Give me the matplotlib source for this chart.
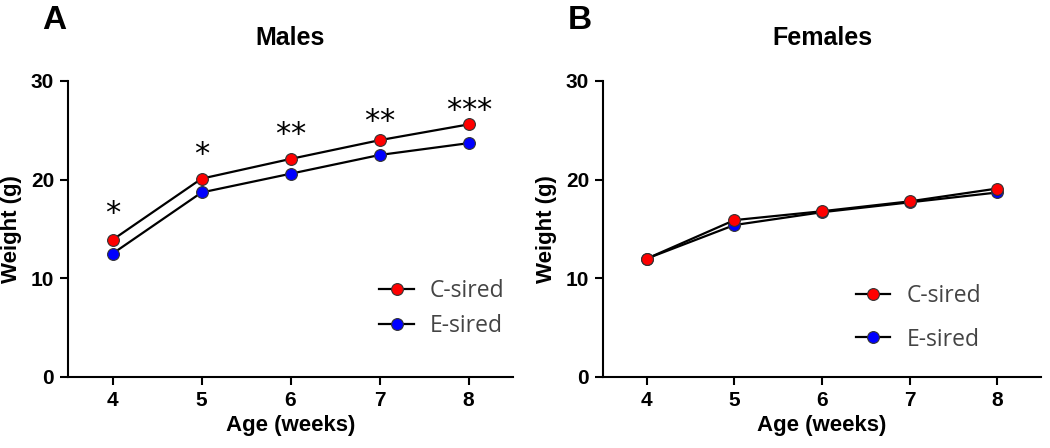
import matplotlib.pyplot as plt

plt.rcParams['font.family'] = ['Liberation Sans', 'DejaVu Sans']

age = [4, 5, 6, 7, 8]

# males
male_c = [13.9, 20.1, 22.1, 24.0, 25.6]
male_e = [12.5, 18.7, 20.6, 22.5, 23.7]
star_y = [17.1, 23.1, 25.1, 26.5, 27.6]
star_n = [1, 1, 2, 2, 3]

# females
female_c = [12.0, 15.9, 16.8, 17.8, 19.1]
female_e = [12.0, 15.4, 16.7, 17.7, 18.7]

fig = plt.figure(figsize=(10.5, 4.48), dpi=100)
axA = fig.add_axes([0.0648, 0.1585, 0.4238, 0.6607])
axB = fig.add_axes([0.5743, 0.1585, 0.4171, 0.6607])

for ax, c_vals, e_vals, title in [(axA, male_c, male_e, 'Males'),
                                   (axB, female_c, female_e, 'Females')]:
    ax.plot(age, e_vals, color='black', lw=1.6, marker='o', ms=8.5,
            mfc='blue', mec='#333333', mew=0.8, label='E-sired', zorder=2)
    ax.plot(age, c_vals, color='black', lw=1.6, marker='o', ms=8.5,
            mfc='red', mec='#333333', mew=0.8, label='C-sired', zorder=3)
    ax.set_xlim(3.5, 8.5)
    ax.set_ylim(0, 30)
    ax.set_xticks(age)
    ax.set_yticks([0, 10, 20, 30])
    for s in ['top', 'right']:
        ax.spines[s].set_visible(False)
    for s in ['left', 'bottom']:
        ax.spines[s].set_linewidth(1.5)
    ax.tick_params(width=1.5, length=6, labelsize=15, pad=4)
    for lab in ax.get_xticklabels() + ax.get_yticklabels():
        lab.set_fontweight('bold')
    ax.set_xlabel('Age (weeks)', fontsize=16, fontweight='bold', labelpad=4)
    ax.set_ylabel('Weight (g)', fontsize=16, fontweight='bold', labelpad=6)
    ax.set_title(title, fontsize=18, fontweight='bold', pad=26)

# significance stars, one glyph each so they can be spread out
for x, y, n in zip(age, star_y, star_n):
    for i in range(n):
        dx = (i - (n - 1) / 2) * 11
        axA.annotate('*', (x, y), xytext=(dx, -4), textcoords='offset points',
                     ha='center', va='center', fontsize=22,
                     family='DejaVu Sans')

for ax, anchor, spacing in [(axA, (0.679, 0.362), 0.5), (axB, (0.557, 0.345), 0.85)]:
    h, l = ax.get_legend_handles_labels()
    leg = ax.legend(h[::-1], l[::-1], loc='upper left', bbox_to_anchor=anchor,
                    frameon=False, prop={'family': 'Open Sans', 'size': 16.5},
                    handlelength=1.5, handletextpad=0.7, labelspacing=spacing,
                    borderaxespad=0)
    for t in leg.get_texts():
        t.set_color('#444444')

fig.text(0.040, 0.935, 'A', fontsize=24, fontweight='bold', ha='left', va='baseline')
fig.text(0.541, 0.935, 'B', fontsize=24, fontweight='bold', ha='left', va='baseline')

fig.savefig('out.png', dpi=100)
